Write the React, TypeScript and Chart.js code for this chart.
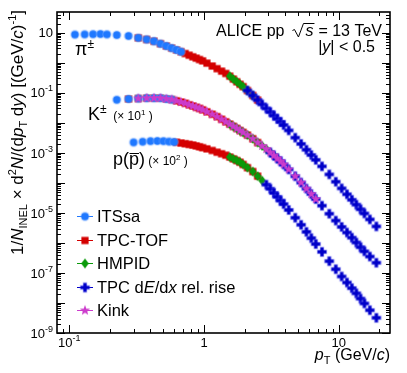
import React, { useEffect, useRef } from 'react';
import { Chart, registerables } from 'chart.js';

Chart.register(...registerables);

const FONT = '"Liberation Sans", Arial, Helvetica, sans-serif';

// ---- Pions (x1) ----
const piItsX = [0.11, 0.13, 0.15, 0.17, 0.19, 0.225, 0.275, 0.325, 0.375, 0.425, 0.475, 0.525, 0.575, 0.625, 0.675];
const piItsY = [8.65, 8.8, 8.91, 9.05, 8.78, 8.36, 7.79, 6.75, 5.96, 5.21, 4.3, 3.6, 3.08, 2.67, 2.33];
const piTofX = [0.325, 0.375, 0.425, 0.475, 0.525, 0.575, 0.625, 0.675, 0.725, 0.775, 0.825, 0.875, 0.925, 0.975, 1.05, 1.15, 1.25, 1.35, 1.45, 1.55, 1.65, 1.75, 1.85, 1.95, 2.1, 2.3, 2.5];
const piTofY = [6.75, 5.96, 5.21, 4.3, 3.6, 3.08, 2.67, 2.33, 2.03, 1.78, 1.58, 1.42, 1.28, 1.16, 0.97, 0.776, 0.636, 0.525, 0.44, 0.357, 0.286, 0.234, 0.192, 0.16, 0.119, 0.0813, 0.0571];
const piHmpX = [1.55, 1.65, 1.75, 1.85, 1.95, 2.1, 2.3];
const piHmpY = [0.357, 0.286, 0.234, 0.192, 0.16, 0.119, 0.0813];
const piTpcX = [2.1, 2.3, 2.5, 2.7, 2.9, 3.1, 3.3, 3.5, 3.7, 3.9, 4.25, 4.75, 5.25, 5.75, 6.25, 6.75, 7.5, 8.5, 9.5, 10.5, 11.5, 12.5, 13.5, 14.5, 15.5, 17, 19];
const piTpcY = [0.119, 0.0813, 0.0571, 0.041, 0.0302, 0.0227, 0.0174, 0.0136, 0.0107, 0.00845, 0.00558, 0.00321, 0.00198, 0.00127, 0.000845, 0.000585, 0.000355, 0.000191, 0.000109, 6.56e-5, 4.17e-5, 2.73e-5, 1.88e-5, 1.32e-5, 9.55e-6, 6.07e-6, 3.55e-6];

// ---- Kaons (drawn x10) ----
const kItsX = [0.225, 0.275, 0.325, 0.375, 0.425, 0.475, 0.525, 0.575];
const kItsY = [0.00584, 0.00621, 0.00646, 0.00666, 0.00666, 0.00664, 0.00626, 0.00595];
const kTofX = [0.275, 0.325, 0.375, 0.425, 0.475, 0.525, 0.575, 0.625, 0.675, 0.725, 0.775, 0.825, 0.875, 0.925, 0.975, 1.05, 1.15, 1.25, 1.35, 1.45, 1.55, 1.65, 1.75, 1.85, 1.95, 2.1, 2.3, 2.5];
const kTofY = [0.00621, 0.00646, 0.00666, 0.00666, 0.00664, 0.00626, 0.00595, 0.00541, 0.00493, 0.00447, 0.00398, 0.00363, 0.00329, 0.00302, 0.00271, 0.00233, 0.00192, 0.0016, 0.00131, 0.00108, 0.000906, 0.000764, 0.00065, 0.000553, 0.000479, 0.000389, 0.000295, 0.00022];
const kHmpX = [1.55, 1.65, 1.75, 1.85, 1.95, 2.1, 2.3, 2.5, 2.7, 2.9, 3.1, 3.3, 3.5];
const kHmpY = [0.000906, 0.000764, 0.00065, 0.000553, 0.000479, 0.000389, 0.000295, 0.00022, 0.00017, 0.000133, 0.000103, 8.13e-5, 6.5e-5];
const kTpcX = [3.1, 3.3, 3.5, 3.7, 3.9, 4.25, 4.75, 5.25, 5.75, 6.25, 6.75, 7.5, 8.5, 9.5, 10.5, 11.5, 12.5, 13.5, 14.5, 15.5, 17, 19];
const kTpcY = [0.000103, 8.13e-5, 6.5e-5, 5.21e-5, 4.1e-5, 2.8e-5, 1.66e-5, 1.02e-5, 6.41e-6, 4.24e-6, 2.88e-6, 1.74e-6, 9.4e-7, 5.54e-7, 3.41e-7, 2.22e-7, 1.5e-7, 1.03e-7, 7.19e-8, 5.25e-8, 3.52e-8, 2.19e-8];
const kKinkX = [0.325, 0.375, 0.425, 0.475, 0.525, 0.575, 0.625, 0.675, 0.725, 0.775, 0.825, 0.875, 0.925, 0.975, 1.05, 1.15, 1.25, 1.35, 1.45, 1.55, 1.65, 1.75, 1.85, 1.95, 2.1, 2.3, 2.5, 2.7, 2.9, 3.1, 3.3, 3.5, 3.7, 3.9, 4.25, 4.75, 5.25, 5.75, 6.25, 6.75];
const kKinkY = [0.00646, 0.00666, 0.00666, 0.00664, 0.00626, 0.00595, 0.00541, 0.00493, 0.00447, 0.00398, 0.00363, 0.00329, 0.00302, 0.00271, 0.00233, 0.00192, 0.0016, 0.00131, 0.00108, 0.000906, 0.000764, 0.00065, 0.000553, 0.000479, 0.000389, 0.000295, 0.00022, 0.00017, 0.000133, 0.000103, 8.13e-5, 6.5e-5, 5.21e-5, 4.1e-5, 2.8e-5, 1.66e-5, 1.02e-5, 6.41e-6, 4.24e-6, 2.88e-6];

// ---- Protons (drawn x100) ----
const pItsX = [0.3, 0.35, 0.4, 0.45, 0.5, 0.55, 0.6];
const pItsY = [2.22e-5, 2.34e-5, 2.45e-5, 2.49e-5, 2.45e-5, 2.37e-5, 2.3e-5];
const pTofX = [0.625, 0.675, 0.725, 0.775, 0.825, 0.875, 0.925, 0.975, 1.05, 1.15, 1.25, 1.35, 1.45, 1.55, 1.65, 1.75, 1.85, 1.95, 2.1, 2.3, 2.5];
const pTofY = [2.26e-5, 2.12e-5, 2.01e-5, 1.91e-5, 1.82e-5, 1.7e-5, 1.59e-5, 1.49e-5, 1.36e-5, 1.2e-5, 1.05e-5, 9.33e-6, 8.32e-6, 7.24e-6, 6.31e-6, 5.54e-6, 4.86e-6, 4.1e-6, 3.21e-6, 2.38e-6, 1.67e-6];
const pHmpX = [1.55, 1.65, 1.75, 1.85, 1.95, 2.1, 2.3, 2.5, 2.7];
const pHmpY = [7.24e-6, 6.31e-6, 5.54e-6, 4.86e-6, 4.1e-6, 3.21e-6, 2.38e-6, 1.67e-6, 1.19e-6];
const pTpcX = [2.9, 3.1, 3.3, 3.5, 3.7, 3.9, 4.25, 4.75, 5.25, 5.75, 6.25, 6.75, 7.5, 8.5, 9.5, 10.5, 11.5, 12.5, 13.5, 14.5, 15.5, 17, 19];
const pTpcY = [8.71e-7, 6.36e-7, 4.61e-7, 3.41e-7, 2.57e-7, 1.96e-7, 1.25e-7, 6.92e-8, 4.01e-8, 2.34e-8, 1.44e-8, 9.19e-9, 5.05e-9, 2.47e-9, 1.33e-9, 7.64e-10, 4.79e-10, 3.11e-10, 2.09e-10, 1.4e-10, 9.62e-11, 5.75e-11, 3.21e-11];

const K_SCALE = 10;
const P_SCALE = 100;

const X_MIN = 0.081;
const X_MAX = 24;
const Y_MIN = 1e-9;
const Y_MAX = 49;

const xMajor = [0.1, 1, 10];
const xMajorLabels = [['10', '-1'], ['1', ''], ['10', '']];
const yLabelExps = [1, -1, -3, -5, -7, -9];

const legendNames = ['ITSsa', 'TPC-TOF', 'HMPID', 'TPC dE/dx rel. rise', 'Kink'];

const COLORS = {
  its: '#1f78ff',
  tof: '#d40000',
  hmp: '#0a9a0a',
  tpc: '#0000c8',
  kink: '#cc3ccc',
};

type Seg = { t: string; size: number; italic?: boolean; dy?: number; over?: number };

function fontOf(s: Seg) {
  return `${s.italic ? 'italic ' : ''}${s.size}px ${FONT}`;
}

function richWidth(ctx: CanvasRenderingContext2D, segs: Seg[]) {
  return segs.reduce((acc, s) => {
    ctx.font = fontOf(s);
    return acc + ctx.measureText(s.t).width;
  }, 0);
}

function drawRich(ctx: CanvasRenderingContext2D, x: number, y: number, segs: Seg[], align: string) {
  const widths = segs.map((s) => {
    ctx.font = fontOf(s);
    return ctx.measureText(s.t).width;
  });
  const total = widths.reduce((a, b) => a + b, 0);
  let cx = align === 'right' ? x - total : align === 'center' ? x - total / 2 : x;
  segs.forEach((s, i) => {
    ctx.font = fontOf(s);
    const yy = y + (s.dy || 0);
    ctx.fillText(s.t, cx, yy);
    if (s.over) {
      ctx.beginPath();
      ctx.lineWidth = 1;
      ctx.moveTo(cx + 0.5, Math.round(yy - s.size * s.over) + 0.5);
      ctx.lineTo(cx + widths[i], Math.round(yy - s.size * s.over) + 0.5);
      ctx.stroke();
    }
    cx += widths[i];
  });
  return total;
}

function makeMarker(kind: string, color: string) {
  const s = 14;
  const c = document.createElement('canvas');
  c.width = s;
  c.height = s;
  const g = c.getContext('2d') as CanvasRenderingContext2D;
  const m = s / 2;
  g.fillStyle = color;
  if (kind === 'circle') {
    g.fillStyle = 'rgba(120,170,255,0.45)';
    g.beginPath();
    g.arc(m, m, 4.8, 0, Math.PI * 2);
    g.fill();
    g.fillStyle = color;
    g.beginPath();
    g.arc(m, m, 3.7, 0, Math.PI * 2);
    g.fill();
  } else if (kind === 'square') {
    g.fillRect(m - 3.6, m - 3.6, 7.2, 7.2);
  } else if (kind === 'diamond') {
    g.beginPath();
    g.moveTo(m, m - 5);
    g.lineTo(m + 3.8, m);
    g.lineTo(m, m + 5);
    g.lineTo(m - 3.8, m);
    g.closePath();
    g.fill();
  } else if (kind === 'plus') {
    g.fillStyle = 'rgba(110,110,255,0.35)';
    g.fillRect(m - 5.3, m - 2.4, 10.6, 4.8);
    g.fillRect(m - 2.4, m - 5.3, 4.8, 10.6);
    g.fillStyle = color;
    g.fillRect(m - 4.5, m - 1.6, 9, 3.2);
    g.fillRect(m - 1.6, m - 4.5, 3.2, 9);
  } else if (kind === 'star') {
    g.beginPath();
    for (let i = 0; i < 10; i++) {
      const r = i % 2 === 0 ? 5.4 : 2.3;
      const a = -Math.PI / 2 + (i * Math.PI) / 5;
      const px = m + r * Math.cos(a);
      const py = m + r * Math.sin(a);
      if (i === 0) g.moveTo(px, py);
      else g.lineTo(px, py);
    }
    g.closePath();
    g.fill();
  }
  return c;
}

const pts = (xs: number[], ys: number[], scale = 1) => xs.map((x, i) => ({ x, y: ys[i] * scale }));

export default function App() {
  const ref = useRef<HTMLCanvasElement>(null);

  useEffect(() => {
    const canvas = ref.current;
    if (!canvas) return;
    const markers = [
      makeMarker('circle', COLORS.its),
      makeMarker('square', COLORS.tof),
      makeMarker('diamond', COLORS.hmp),
      makeMarker('plus', COLORS.tpc),
      makeMarker('star', COLORS.kink),
    ];
    const legendColors = [COLORS.its, COLORS.tof, COLORS.hmp, COLORS.tpc, COLORS.kink];

    const base = { showLine: false, pointRadius: 5, pointHoverRadius: 5 };
    const datasets: any[] = [
      {
        ...base,
        label: legendNames[0],
        order: 1,
        pointStyle: markers[0],
        data: [...pts(piItsX, piItsY), ...pts(kItsX, kItsY, K_SCALE), ...pts(pItsX, pItsY, P_SCALE)],
      },
      {
        ...base,
        label: legendNames[1],
        order: 4,
        pointStyle: markers[1],
        data: [...pts(piTofX, piTofY), ...pts(kTofX, kTofY, K_SCALE), ...pts(pTofX, pTofY, P_SCALE)],
      },
      {
        ...base,
        label: legendNames[2],
        order: 3,
        pointStyle: markers[2],
        data: [...pts(piHmpX, piHmpY), ...pts(kHmpX, kHmpY, K_SCALE), ...pts(pHmpX, pHmpY, P_SCALE)],
      },
      {
        ...base,
        label: legendNames[3],
        order: 2,
        pointStyle: markers[3],
        data: [...pts(piTpcX, piTpcY), ...pts(kTpcX, kTpcY, K_SCALE), ...pts(pTpcX, pTpcY, P_SCALE)],
      },
      {
        ...base,
        label: legendNames[4],
        order: 0,
        pointStyle: markers[4],
        data: [...pts(kKinkX, kKinkY, K_SCALE)],
      },
    ];

    const decor = {
      id: 'decor',
      afterDatasetsDraw(chart: any) {
        const ctx: CanvasRenderingContext2D = chart.ctx;
        const a = chart.chartArea;
        const xs = chart.scales.x;
        const ys = chart.scales.y;
        ctx.save();
        ctx.fillStyle = '#000';
        ctx.strokeStyle = '#000';
        ctx.textAlign = 'left';
        ctx.textBaseline = 'alphabetic';

        // ticks
        ctx.lineWidth = 1;
        ctx.beginPath();
        for (let e = -10; e <= 2; e++) {
          for (let k = 1; k <= 9; k++) {
            const v = k * Math.pow(10, e);
            if (v < Y_MIN * 0.999 || v > Y_MAX) continue;
            const py = Math.round(ys.getPixelForValue(v)) + 0.5;
            const len = k === 1 ? 8 : 4;
            ctx.moveTo(a.left, py);
            ctx.lineTo(a.left + len, py);
            ctx.moveTo(a.right, py);
            ctx.lineTo(a.right - len, py);
          }
        }
        for (let e = -2; e <= 2; e++) {
          for (let k = 1; k <= 9; k++) {
            const v = k * Math.pow(10, e);
            if (v < X_MIN || v > X_MAX) continue;
            const px = Math.round(xs.getPixelForValue(v)) + 0.5;
            const len = k === 1 ? 8 : 4;
            ctx.moveTo(px, a.bottom);
            ctx.lineTo(px, a.bottom - len);
            ctx.moveTo(px, a.top);
            ctx.lineTo(px, a.top + len);
          }
        }
        ctx.stroke();

        // frame
        ctx.lineWidth = 1.6;
        ctx.strokeRect(a.left, a.top, a.right - a.left, a.bottom - a.top);

        // y tick labels
        yLabelExps.forEach((e) => {
          const py = ys.getPixelForValue(Math.pow(10, e));
          const segs: Seg[] = [{ t: '10', size: 13 }];
          if (e !== 1) segs.push({ t: String(e), size: 9, dy: -6 });
          drawRich(ctx, a.left - 4, py + 4.7, segs, 'right');
        });
        // x tick labels
        xMajor.forEach((v, i) => {
          const px = xs.getPixelForValue(v);
          const [b, sup] = xMajorLabels[i];
          const segs: Seg[] = [{ t: b, size: 13 }];
          if (sup) segs.push({ t: sup, size: 9, dy: -6 });
          drawRich(ctx, px, 347, segs, 'center');
        });

        // x title
        drawRich(
          ctx,
          a.right,
          360,
          [
            { t: 'p', size: 16, italic: true },
            { t: 'T', size: 11, dy: 4 },
            { t: ' (GeV/', size: 16 },
            { t: 'c', size: 16, italic: true },
            { t: ')', size: 16 },
          ],
          'right'
        );

        // y title (rotated)
        ctx.save();
        ctx.translate(22.5, 10);
        ctx.rotate(-Math.PI / 2);
        drawRich(
          ctx,
          0,
          0,
          [
            { t: '1/', size: 17 },
            { t: 'N', size: 17, italic: true },
            { t: 'INEL', size: 11, dy: 4 },
            { t: ' × d', size: 17 },
            { t: '2', size: 11, dy: -7 },
            { t: 'N', size: 17, italic: true },
            { t: '/(d', size: 17 },
            { t: 'p', size: 17, italic: true },
            { t: 'T', size: 11, dy: 4 },
            { t: ' d', size: 17 },
            { t: 'y', size: 17, italic: true },
            { t: ') [(GeV/', size: 17 },
            { t: 'c', size: 17, italic: true },
            { t: ')', size: 17 },
            { t: '-1', size: 11, dy: -7 },
            { t: ']', size: 17 },
          ],
          'right'
        );
        ctx.restore();

        // particle labels
        drawRich(ctx, 75, 55, [
          { t: 'π', size: 18 },
          { t: '±', size: 12, dy: -7 },
        ], 'left');
        drawRich(ctx, 88, 120, [
          { t: 'K', size: 18 },
          { t: '±', size: 12, dy: -7 },
          { t: '  (× 10', size: 12 },
          { t: '1', size: 8, dy: -5 },
          { t: ' )', size: 12 },
        ], 'left');
        drawRich(ctx, 113, 164.5, [
          { t: 'p(', size: 18 },
          { t: 'p', size: 18, over: 0.66 },
          { t: ')', size: 18 },
          { t: ' (× 10', size: 12 },
          { t: '2', size: 8, dy: -5 },
          { t: ' )', size: 12 },
        ], 'left');

        // system label: ALICE pp sqrt(s) = 13 TeV (radical drawn as a path)
        const tailSegs: Seg[] = [{ t: ' = 13 TeV', size: 16 }];
        const tailW = richWidth(ctx, tailSegs);
        const tailX = 382 - tailW;
        drawRich(ctx, tailX, 36, tailSegs, 'left');
        const sSeg: Seg[] = [{ t: 's', size: 16, italic: true }];
        const sW = richWidth(ctx, sSeg);
        const sX = tailX - sW - 0.5;
        drawRich(ctx, sX, 36, sSeg, 'left');
        ctx.lineWidth = 1;
        ctx.beginPath();
        ctx.moveTo(sX - 13, 30.5);
        ctx.lineTo(sX - 11, 29.5);
        ctx.lineTo(sX - 7, 37);
        ctx.lineTo(sX - 2, 23.5);
        ctx.lineTo(sX + sW + 1, 23.5);
        ctx.stroke();
        drawRich(ctx, sX - 21, 36, [{ t: 'ALICE pp', size: 16 }], 'right');

        drawRich(ctx, 375, 52, [
          { t: '|', size: 16 },
          { t: 'y', size: 16, italic: true },
          { t: '| < 0.5', size: 16 },
        ], 'right');

        // legend
        const rows = [216, 240, 263, 287, 310];
        rows.forEach((ry, i) => {
          ctx.strokeStyle = legendColors[i];
          ctx.lineWidth = 1;
          ctx.beginPath();
          ctx.moveTo(77, ry + 0.5);
          ctx.lineTo(93, ry + 0.5);
          ctx.stroke();
          ctx.drawImage(markers[i], 85 - 7, ry - 7 + 0.5);
          ctx.fillStyle = '#000';
          ctx.strokeStyle = '#000';
          let segs: Seg[];
          if (i === 3) {
            segs = [
              { t: 'TPC d', size: 16.5 },
              { t: 'E', size: 16.5, italic: true },
              { t: '/d', size: 16.5 },
              { t: 'x', size: 16.5, italic: true },
              { t: ' rel. rise', size: 16.5 },
            ];
          } else {
            segs = [{ t: legendNames[i], size: 16.5 }];
          }
          drawRich(ctx, 97, ry + 6, segs, 'left');
        });

        ctx.restore();
      },
    };

    const chart = new Chart(canvas, {
      type: 'scatter',
      data: { datasets },
      options: {
        animation: false,
        responsive: false,
        maintainAspectRatio: false,
        devicePixelRatio: 1,
        layout: { padding: { left: 57, right: 17, top: 12, bottom: 40 } },
        scales: {
          x: { type: 'logarithmic', min: X_MIN, max: X_MAX, display: false },
          y: { type: 'logarithmic', min: Y_MIN, max: Y_MAX, display: false },
        },
        plugins: {
          legend: { display: false },
          tooltip: { enabled: false },
        },
      },
      plugins: [decor],
    } as any);

    return () => chart.destroy();
  }, []);

  return (
    <div style={{ position: 'absolute', left: 0, top: 0, width: 407, height: 373, background: '#fff' }}>
      <canvas ref={ref} width={407} height={373} style={{ display: 'block', width: 407, height: 373 }} />
    </div>
  );
}
